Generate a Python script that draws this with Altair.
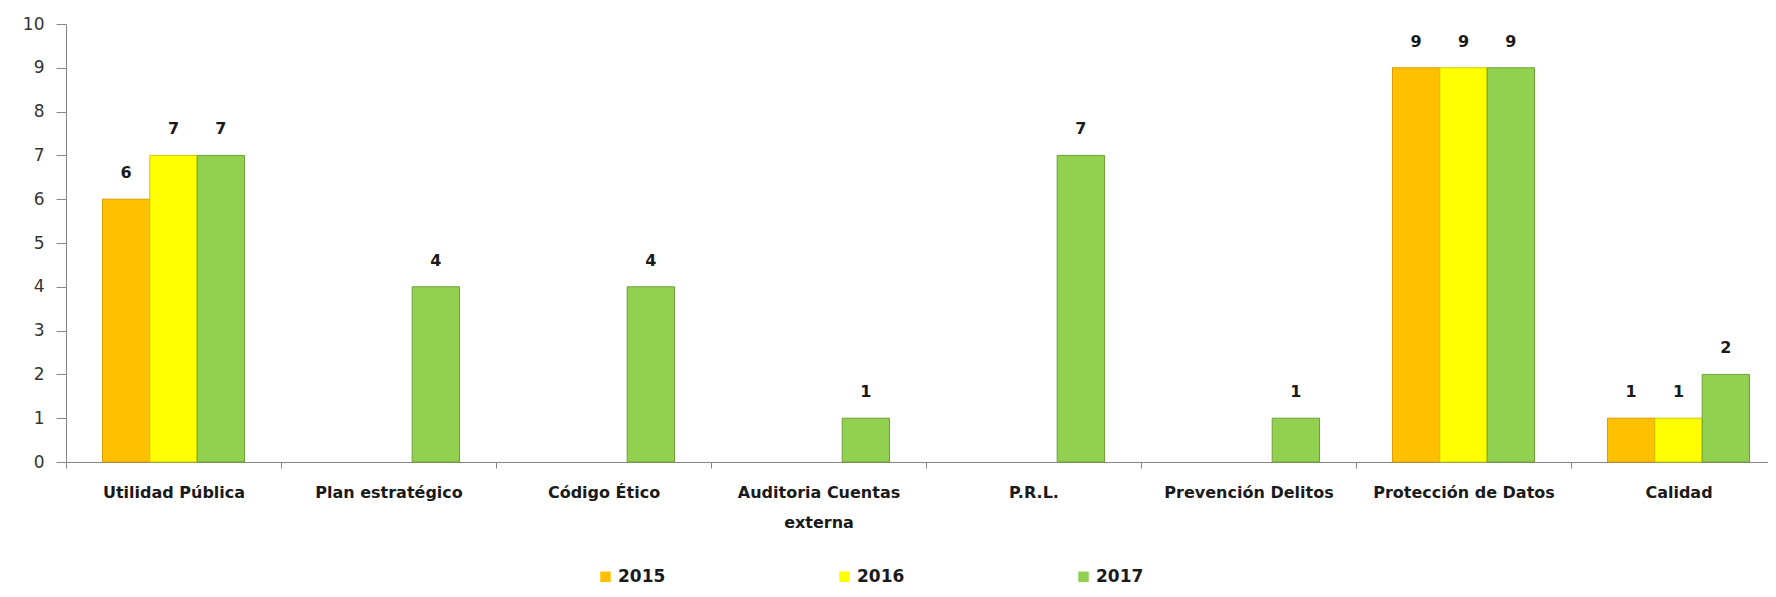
import altair as alt
import pandas as pd

categories = ["Utilidad Pública", "Plan estratégico", "Código Ético", "Auditoria Cuentas|externa",
              "P.R.L.", "Prevención Delitos", "Protección de Datos", "Calidad"]
years = ["2015", "2016", "2017"]
v2015 = [6, 0, 0, 0, 0, 0, 9, 1]
v2016 = [7, 0, 0, 0, 0, 0, 9, 1]
v2017 = [7, 4, 4, 1, 7, 1, 9, 2]
colors = ["#FFC000", "#FFFF00", "#92D050"]
strokes = ["#D99A00", "#C9C900", "#6E9E35"]

rows = []
for i, c in enumerate(categories):
    for y, vals in zip(years, [v2015, v2016, v2017]):
        rows.append({"categoria": c, "anio": y, "valor": vals[i]})
df = pd.DataFrame(rows)

FONT = "DejaVu Sans"

x = alt.X("categoria:N", sort=categories, title=None,
          scale=alt.Scale(domain=categories, range=[0, 1720], paddingInner=0, paddingOuter=0),
          axis=alt.Axis(labelExpr="split(datum.label, '|')", labelAngle=0, labelFont=FONT,
                        labelFontWeight="bold", labelFontSize=16, labelColor="#1a1a1a",
                        labelLineHeight=30, labelPadding=24, tickBand="extent", tickSize=6,
                        labelLimit=400, grid=False,
                        domainColor="#868686", tickColor="#868686", labelBaseline="middle"))
xo = alt.XOffset("anio:N", sort=years,
                 scale=alt.Scale(domain=years, paddingInner=0, paddingOuter=0.77))
y = alt.Y("valor:Q", title=None,
          scale=alt.Scale(domain=[0, 10], nice=False),
          axis=alt.Axis(values=list(range(11)), grid=False, labelFont=FONT, labelFontSize=17,
                        labelColor="#333333", tickSize=10, labelPadding=12,
                        domainColor="#868686", tickColor="#868686"))

bar_data = alt.Chart(df).transform_filter("datum.valor > 0")

bars = bar_data.mark_bar(strokeWidth=1).encode(
    x=x, xOffset=xo, y=y,
    color=alt.Color("anio:N", sort=years, title=None,
                    scale=alt.Scale(domain=years, range=colors),
                    legend=alt.Legend(orient="none", legendX=531, legendY=544, direction="horizontal",
                                      symbolType="square", symbolSize=110, symbolStrokeWidth=0,
                                      labelFont=FONT, labelFontWeight="bold", labelFontSize=17,
                                      labelColor="#1a1a1a", columnPadding=170, labelOffset=4)),
    stroke=alt.Stroke("anio:N", sort=years, scale=alt.Scale(domain=years, range=strokes), legend=None),
)

labels = bar_data.mark_text(baseline="bottom", dy=-18, font=FONT, fontWeight="bold", fontSize=16,
                            color="#1a1a1a").encode(
    x=x, xOffset=xo, y=y, text=alt.Text("valor:Q"))

chart = alt.layer(bars, labels).properties(
    width=1702, height=438,
    autosize=alt.AutoSizeParams(type="none"),
    padding={"left": 58, "top": 16, "right": 0, "bottom": 124},
).configure(
    background="white",
    view=alt.ViewConfig(stroke="#ff0000", strokeWidth=0, strokeOpacity=0, fill="white"),
    axis=alt.AxisConfig(grid=False, gridOpacity=0),
)

chart.save("out.html", embed_options={"renderer": "svg", "actions": False})
